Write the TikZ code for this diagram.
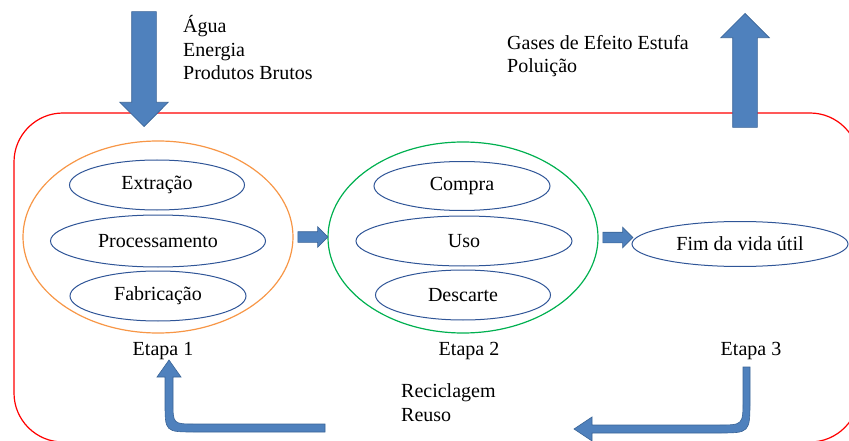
\documentclass[tikz,border=0pt]{standalone}
\usepackage{fontspec}
\setmainfont{Liberation Serif}
\usetikzlibrary{shapes.geometric,shapes.arrows,positioning}
\definecolor{setaazul}{HTML}{4F81BD}
\definecolor{bordaazul}{HTML}{3A6496}
\definecolor{elipseazul}{HTML}{2F5597}
\definecolor{laranja}{HTML}{F79646}
\definecolor{verde}{HTML}{00B050}
\begin{document}
\begin{tikzpicture}[x=1pt,y=-1pt,
  every node/.style={font=\fontsize{20}{23.5}\selectfont},
  fase/.style={ellipse,draw=elipseazul,line width=1pt,inner sep=0pt},
  grupo/.style={ellipse,line width=1.2pt,inner sep=0pt,minimum width=270pt,minimum height=192pt},
  seta/.style={single arrow,fill=setaazul,draw=bordaazul,line width=0.6pt,inner sep=5pt,single arrow head extend=5pt,minimum height=30pt},
  setagrande/.style={single arrow,fill=setaazul,draw=bordaazul,line width=0.6pt,inner sep=12pt,single arrow head extend=12pt,minimum height=115pt},
  rotulo/.style={inner sep=0pt,align=left}]
\useasboundingbox (0,0) rectangle (849,441);
\clip (0,0) rectangle (849,441);
\draw[red,line width=1.2pt,rounded corners=49pt] (14,113) rectangle (859,442);

% etapa 1
\node[grupo,draw=laranja] (etapa1) at (158,237) {};
\node[fase,minimum width=175pt,minimum height=50pt] (extracao) at (157,185) {Extração};
\node[fase,minimum width=215pt,minimum height=52pt] (processamento) at (158,241) {Processamento};
\node[fase,minimum width=176pt,minimum height=50pt] (fabricacao) at (158,296) {Fabricação};

% etapa 2
\node[grupo,draw=verde,minimum height=191pt] (etapa2) at (463,237.5) {};
\node[fase,minimum width=176pt,minimum height=49pt] (compra) at (462,186) {Compra};
\node[fase,minimum width=216pt,minimum height=50pt] (uso) at (464,241) {Uso};
\node[fase,minimum width=175pt,minimum height=50pt] (descarte) at (463,295) {Descarte};

% etapa 3
\node[seta,right=4pt of etapa1] (s1) {};
\node[seta,right=4pt of etapa2] (s2) {};
\node[fase,minimum width=216pt,minimum height=45pt] (fim) at (740,244) {Fim da vida útil};

\node[anchor=base,inner sep=0pt] (rot1) at (163,355) {Etapa 1};
\node[anchor=base,inner sep=0pt] (rot2) at (469,355) {Etapa 2};
\node[anchor=base,inner sep=0pt] (rot3) at (751,355) {Etapa 3};

% entradas e saidas
\node[setagrande,shape border rotate=270,anchor=tip] (entrada) at (144,127) {};
\node[setagrande,shape border rotate=90,anchor=tip,minimum height=114pt] (saida) at (745,13) {};
\node[rotulo,anchor=base west] (insumos) at (183,80) {Água\\Energia\\Produtos Brutos};
\node[rotulo,anchor=base west] (emissoes) at (507,73) {Gases de Efeito Estufa\\Poluição};
\node[rotulo,anchor=base west] (retorno) at (401,421) {Reciclagem\\Reuso};

% retorno
\filldraw[fill=setaazul,draw=bordaazul,line width=0.6pt]
  (325,424) -- (195,424) .. controls (173,424) .. (173,402) -- (173,377)
  -- (181,377) -- (169,360) -- (157,377) -- (165,377) -- (165,402)
  .. controls (165,432) .. (195,432) -- (325,432) -- cycle;
\filldraw[fill=setaazul,draw=bordaazul,line width=0.6pt]
  (743,367) -- (743,400) .. controls (743,425) .. (718,425) -- (592,425)
  -- (592,417) -- (574,429) -- (592,441) -- (592,433) -- (718,433)
  .. controls (750,433) .. (750,400) -- (750,367) -- cycle;
\end{tikzpicture}
\end{document}
